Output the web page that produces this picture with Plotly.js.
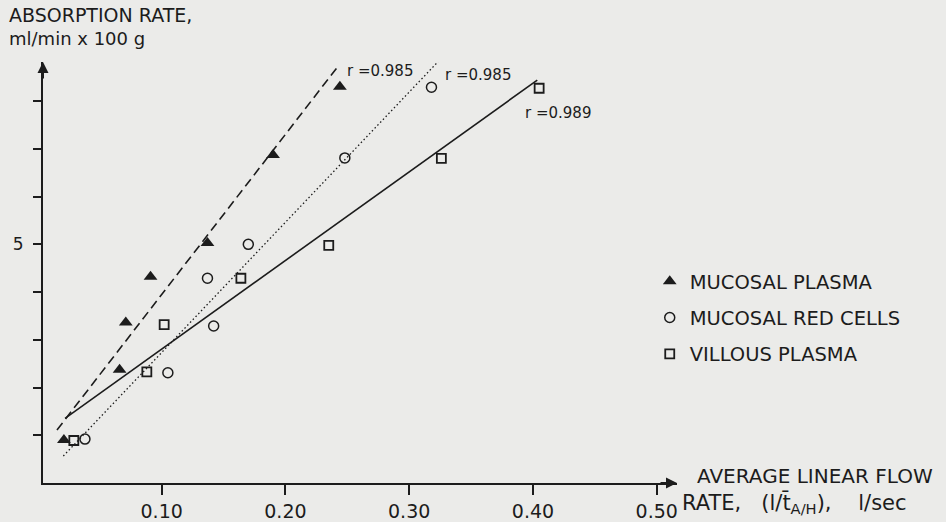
<!DOCTYPE html>
<html><head><meta charset="utf-8">
<script src="https://cdn.plot.ly/plotly-3.0.1.min.js"></script>
<style>html,body{margin:0;padding:0;background:#ebebe9;overflow:hidden}</style>
</head><body>
<div id="chart" style="width:946px;height:522px"></div>
<script>
// ---- data ----
const seriesNames = ['MUCOSAL PLASMA', 'MUCOSAL RED CELLS', 'VILLOUS PLASMA'];

const plasmaX  = [0.021, 0.066, 0.071, 0.091, 0.137, 0.190, 0.244];
const plasmaY  = [0.90, 2.37, 3.36, 4.32, 5.03, 6.87, 8.30];

const redCellX = [0.038, 0.105, 0.142, 0.137, 0.170, 0.248, 0.318];
const redCellY = [0.92, 2.31, 3.29, 4.29, 5.00, 6.81, 8.29];

const villousX = [0.029, 0.088, 0.102, 0.164, 0.235, 0.326, 0.405];
const villousY = [0.89, 2.33, 3.32, 4.29, 4.98, 6.80, 8.27];

// regression lines (end points)
const plasmaFitX  = [0.0154, 0.2422];
const plasmaFitY  = [1.11, 8.72];
const redCellFitX = [0.0205, 0.3249];
const redCellFitY = [0.565, 8.87];
const villousFitX = [0.0219, 0.4035];
const villousFitY = [1.355, 8.44];

const rValues = ['0.985', '0.985', '0.989'];

const xTickVals = [0.10, 0.20, 0.30, 0.40, 0.50];
const xTickText = ['0.10', '0.20', '0.30', '0.40', '0.50'];
const yTickVals = [1, 2, 3, 4, 5, 6, 7, 8];
const yTickText = ['', '', '', '', '5', '', '', ''];

// ---- drawing ----
const ink = '#1c1c1c';
const bg = '#ebebe9';
const font = 'DejaVu Sans, Liberation Sans, sans-serif';
const xRange = [0.0041, 0.5164];
const yRange = [0, 8.82];

const traces = [
  {x: plasmaFitX, y: plasmaFitY, mode: 'lines', showlegend: false, hoverinfo: 'skip',
   line: {color: ink, width: 1.6, dash: '9px,5px'}},
  {x: redCellFitX, y: redCellFitY, mode: 'lines', showlegend: false, hoverinfo: 'skip',
   line: {color: ink, width: 1.3, dash: '1.5px,2.5px'}},
  {x: villousFitX, y: villousFitY, mode: 'lines', showlegend: false, hoverinfo: 'skip',
   line: {color: ink, width: 1.6}},
  {x: plasmaX, y: plasmaY, mode: 'markers', name: seriesNames[0], legendgroup: 'a',
   cliponaxis: false,
   marker: {symbol: 'triangle-up', size: 12, color: ink, line: {width: 0}}},
  {x: redCellX, y: redCellY, mode: 'markers', name: seriesNames[1], legendgroup: 'b',
   cliponaxis: false,
   marker: {symbol: 'circle-open', size: 10, color: ink, line: {width: 1.5, color: ink}}},
  {x: villousX, y: villousY, mode: 'markers', name: seriesNames[2], legendgroup: 'c',
   cliponaxis: false,
   marker: {symbol: 'square-open', size: 9, color: ink, line: {width: 1.8, color: ink}}}
];

const annotations = [
  // axis arrowheads
  {x: xRange[1], y: 0, xref: 'x', yref: 'y', ax: -18, ay: 0, text: '', showarrow: true,
   arrowhead: 2, arrowsize: 1.1, arrowwidth: 2, arrowcolor: ink, standoff: 0},
  {x: xRange[0], y: yRange[1], xref: 'x', yref: 'y', ax: 0, ay: 18, text: '', showarrow: true,
   arrowhead: 2, arrowsize: 1.1, arrowwidth: 2, arrowcolor: ink, standoff: 0},
  // y-axis title
  {text: 'ABSORPTION RATE,', xref: 'paper', yref: 'paper', x: -0.0573, y: 1.1115,
   xanchor: 'left', yanchor: 'middle', showarrow: false, font: {family: font, size: 19, color: ink}},
  {text: 'ml/min x 100 g', xref: 'paper', yref: 'paper', x: -0.0573, y: 1.0569,
   xanchor: 'left', yanchor: 'middle', showarrow: false, font: {family: font, size: 18, color: ink}},
  // x-axis title
  {text: 'AVERAGE LINEAR FLOW', xref: 'paper', yref: 'paper', x: 1.0284, y: 0.0178,
   xanchor: 'left', yanchor: 'middle', showarrow: false, font: {family: font, size: 20, color: ink}},
  {text: 'RATE,\u00a0\u00a0\u00a0(l/t\u0304<sub>A/H</sub>),\u00a0\u00a0\u00a0\u00a0l/sec',
   xref: 'paper', yref: 'paper', x: 1.0047, y: -0.048,
   xanchor: 'left', yanchor: 'middle', showarrow: false, font: {family: font, size: 21, color: ink}},
  // correlation labels
  {text: 'r =' + rValues[0], x: 0.2481, y: 8.63, xref: 'x', yref: 'y', xanchor: 'left', yanchor: 'middle',
   showarrow: false, font: {family: font, size: 15, color: ink}},
  {text: 'r =' + rValues[1], x: 0.3276, y: 8.55, xref: 'x', yref: 'y', xanchor: 'left', yanchor: 'middle',
   showarrow: false, font: {family: font, size: 15, color: ink}},
  {text: 'r =' + rValues[2], x: 0.3922, y: 7.76, xref: 'x', yref: 'y', xanchor: 'left', yanchor: 'middle',
   showarrow: false, font: {family: font, size: 15, color: ink}}
];

const layout = {
  width: 946, height: 522,
  margin: {l: 43, r: 269, t: 62, b: 39},
  paper_bgcolor: bg, plot_bgcolor: bg,
  font: {family: font, color: ink},
  showlegend: true,
  legend: {x: 0.957, y: 0.525, xanchor: 'left', yanchor: 'top',
           bgcolor: 'rgba(0,0,0,0)', font: {family: font, size: 19.5, color: ink},
           traceorder: 'grouped', tracegroupgap: 8, itemwidth: 30},
  xaxis: {range: xRange, showgrid: false, zeroline: false, showline: true, linecolor: ink, linewidth: 2,
          ticks: 'outside', ticklen: 10, tickwidth: 2, tickcolor: ink,
          tickvals: xTickVals, ticktext: xTickText, tickfont: {family: font, size: 19, color: ink}},
  yaxis: {range: yRange, showgrid: false, zeroline: false, showline: true, linecolor: ink, linewidth: 2,
          ticks: 'outside', ticklen: 8, tickwidth: 2, tickcolor: ink,
          tickvals: yTickVals, ticktext: yTickText, ticklabelstandoff: 6,
          tickfont: {family: font, size: 17, color: ink}},
  annotations: annotations
};

Plotly.newPlot('chart', traces, layout, {displayModeBar: false, staticPlot: true});
</script>
</body></html>
